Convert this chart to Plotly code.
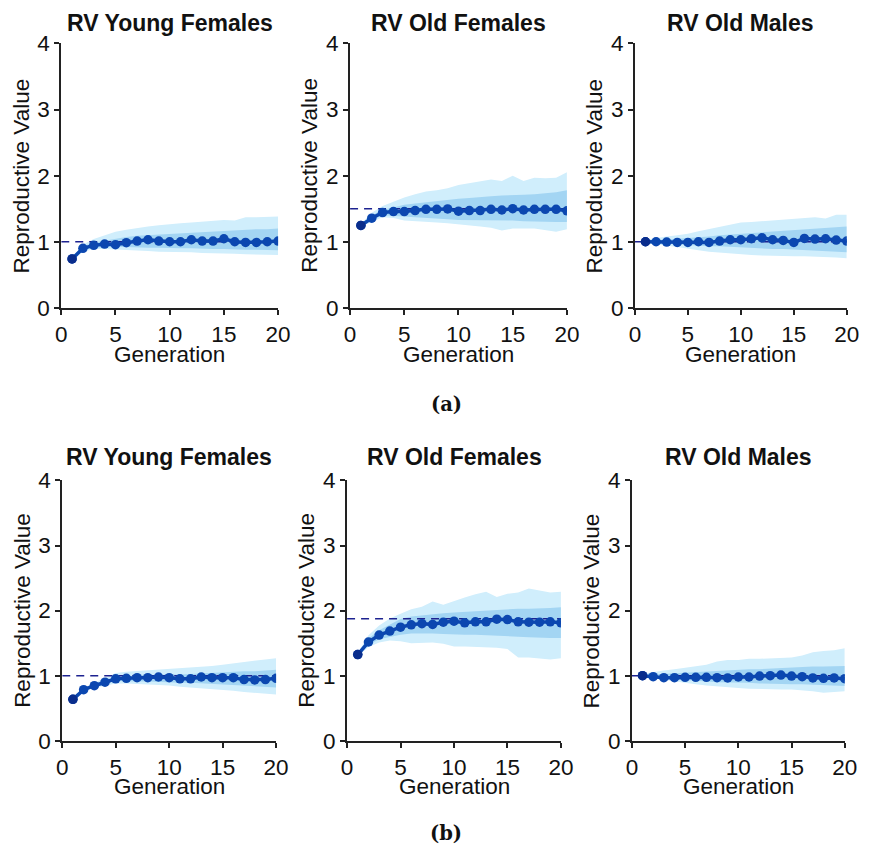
import plotly.graph_objects as go

gens = list(range(1, 21))
titles = ["RV Young Females", "RV Old Females", "RV Old Males"] * 2
captions = ["(a)", "(b)"]
x_ticks = [0, 5, 10, 15, 20]
y_ticks = [0, 1, 2, 3, 4]

# ---- (a) ----
a_yf_mean = [0.74, 0.90, 0.945, 0.965, 0.955, 0.985, 1.01, 1.03, 1.01, 1.0, 1.0, 1.03, 1.01, 1.01, 1.045, 1.0, 0.99, 0.99, 1.0, 1.01]
a_yf_out_hi = [0.76, 0.96, 1.04, 1.10, 1.15, 1.18, 1.21, 1.23, 1.25, 1.27, 1.28, 1.29, 1.30, 1.32, 1.33, 1.32, 1.37, 1.37, 1.37, 1.38]
a_yf_out_lo = [0.72, 0.85, 0.89, 0.89, 0.88, 0.87, 0.87, 0.86, 0.85, 0.85, 0.84, 0.84, 0.83, 0.83, 0.82, 0.82, 0.81, 0.81, 0.80, 0.80]
a_yf_in_hi = [0.75, 0.93, 0.99, 1.02, 1.05, 1.07, 1.09, 1.10, 1.11, 1.12, 1.13, 1.14, 1.15, 1.16, 1.17, 1.18, 1.18, 1.19, 1.19, 1.20]
a_yf_in_lo = [0.73, 0.88, 0.91, 0.92, 0.92, 0.92, 0.92, 0.91, 0.91, 0.91, 0.90, 0.90, 0.90, 0.89, 0.89, 0.89, 0.88, 0.88, 0.88, 0.87]
a_yf_target = 1.0

a_of_mean = [1.246, 1.357, 1.442, 1.457, 1.457, 1.472, 1.49, 1.49, 1.497, 1.462, 1.472, 1.472, 1.49, 1.48, 1.50, 1.48, 1.49, 1.49, 1.49, 1.467]
a_of_out_hi = [1.27, 1.44, 1.54, 1.61, 1.67, 1.72, 1.76, 1.78, 1.81, 1.86, 1.89, 1.91, 1.94, 1.92, 2.0, 1.92, 1.97, 1.96, 1.97, 2.05]
a_of_out_lo = [1.23, 1.30, 1.37, 1.36, 1.32, 1.31, 1.30, 1.29, 1.28, 1.26, 1.25, 1.23, 1.21, 1.17, 1.20, 1.20, 1.20, 1.17, 1.15, 1.19]
a_of_in_hi = [1.26, 1.40, 1.48, 1.52, 1.56, 1.58, 1.60, 1.62, 1.63, 1.65, 1.66, 1.68, 1.69, 1.70, 1.70, 1.71, 1.72, 1.73, 1.75, 1.78]
a_of_in_lo = [1.24, 1.33, 1.40, 1.40, 1.38, 1.37, 1.36, 1.35, 1.34, 1.33, 1.33, 1.32, 1.32, 1.32, 1.32, 1.31, 1.31, 1.30, 1.30, 1.30]
a_of_target = 1.5

a_om_mean = [1.0, 1.0, 0.995, 0.99, 0.99, 1.0, 0.99, 1.01, 1.03, 1.03, 1.045, 1.06, 1.03, 1.02, 0.99, 1.05, 1.04, 1.045, 1.025, 1.01]
a_om_out_hi = [1.03, 1.06, 1.08, 1.10, 1.12, 1.16, 1.19, 1.22, 1.25, 1.29, 1.30, 1.31, 1.32, 1.33, 1.34, 1.35, 1.37, 1.35, 1.41, 1.41]
a_om_out_lo = [0.98, 0.96, 0.94, 0.92, 0.90, 0.87, 0.85, 0.84, 0.82, 0.81, 0.80, 0.79, 0.79, 0.78, 0.78, 0.78, 0.78, 0.77, 0.76, 0.75]
a_om_in_hi = [1.01, 1.02, 1.03, 1.04, 1.05, 1.07, 1.08, 1.10, 1.11, 1.13, 1.14, 1.15, 1.16, 1.16, 1.17, 1.18, 1.19, 1.20, 1.22, 1.23]
a_om_in_lo = [0.99, 0.98, 0.97, 0.96, 0.95, 0.94, 0.93, 0.93, 0.92, 0.92, 0.91, 0.90, 0.89, 0.89, 0.88, 0.87, 0.86, 0.86, 0.85, 0.84]
a_om_target = 1.0

# ---- (b) ----
b_yf_mean = [0.637, 0.785, 0.846, 0.90, 0.953, 0.96, 0.97, 0.97, 0.98, 0.97, 0.953, 0.953, 0.98, 0.97, 0.97, 0.97, 0.94, 0.935, 0.94, 0.96]
b_yf_out_hi = [0.65, 0.81, 0.89, 0.97, 1.04, 1.06, 1.07, 1.08, 1.09, 1.10, 1.11, 1.12, 1.14, 1.15, 1.17, 1.19, 1.21, 1.23, 1.25, 1.27]
b_yf_out_lo = [0.62, 0.76, 0.81, 0.85, 0.88, 0.88, 0.88, 0.87, 0.86, 0.85, 0.83, 0.82, 0.81, 0.80, 0.78, 0.77, 0.75, 0.74, 0.72, 0.71]
b_yf_in_hi = [0.64, 0.79, 0.86, 0.92, 0.98, 0.99, 1.0, 1.01, 1.01, 1.02, 1.02, 1.03, 1.04, 1.04, 1.05, 1.06, 1.07, 1.07, 1.08, 1.09]
b_yf_in_lo = [0.63, 0.78, 0.83, 0.88, 0.92, 0.92, 0.91, 0.91, 0.91, 0.90, 0.89, 0.89, 0.88, 0.88, 0.87, 0.86, 0.85, 0.84, 0.83, 0.82]
b_yf_target = 1.0

b_of_mean = [1.325, 1.518, 1.624, 1.685, 1.746, 1.782, 1.80, 1.787, 1.822, 1.838, 1.812, 1.827, 1.827, 1.868, 1.863, 1.827, 1.822, 1.822, 1.827, 1.812]
b_of_out_hi = [1.35, 1.62, 1.77, 1.88, 1.95, 2.02, 2.06, 2.14, 2.09, 2.15, 2.20, 2.25, 2.29, 2.21, 2.26, 2.28, 2.34, 2.31, 2.28, 2.29]
b_of_out_lo = [1.30, 1.44, 1.51, 1.54, 1.53, 1.50, 1.51, 1.51, 1.49, 1.45, 1.45, 1.44, 1.44, 1.43, 1.41, 1.28, 1.28, 1.27, 1.25, 1.27]
b_of_in_hi = [1.34, 1.57, 1.70, 1.79, 1.87, 1.91, 1.93, 1.95, 1.96, 1.97, 1.98, 1.99, 2.01, 2.02, 2.03, 2.03, 2.03, 2.03, 2.04, 2.05]
b_of_in_lo = [1.31, 1.47, 1.56, 1.60, 1.63, 1.65, 1.65, 1.65, 1.64, 1.63, 1.63, 1.63, 1.62, 1.62, 1.61, 1.60, 1.59, 1.58, 1.58, 1.58]
b_of_target = 1.875

b_om_mean = [1.0, 0.985, 0.97, 0.97, 0.975, 0.975, 0.975, 0.97, 0.965, 0.98, 0.98, 0.995, 1.0, 1.01, 0.995, 0.985, 0.965, 0.96, 0.965, 0.955]
b_om_out_hi = [1.03, 1.06, 1.08, 1.10, 1.12, 1.14, 1.17, 1.22, 1.24, 1.24, 1.26, 1.26, 1.27, 1.28, 1.28, 1.31, 1.36, 1.38, 1.39, 1.42]
b_om_out_lo = [0.98, 0.95, 0.93, 0.91, 0.89, 0.87, 0.85, 0.84, 0.82, 0.81, 0.80, 0.79, 0.79, 0.79, 0.79, 0.78, 0.76, 0.74, 0.75, 0.76]
b_om_in_hi = [1.01, 1.02, 1.02, 1.03, 1.04, 1.05, 1.06, 1.08, 1.08, 1.09, 1.10, 1.10, 1.11, 1.11, 1.12, 1.13, 1.14, 1.14, 1.15, 1.15]
b_om_in_lo = [0.99, 0.97, 0.96, 0.95, 0.93, 0.92, 0.91, 0.90, 0.90, 0.89, 0.89, 0.88, 0.88, 0.87, 0.87, 0.87, 0.86, 0.85, 0.85, 0.84]
b_om_target = 1.0

panels = [
    (a_yf_mean, a_yf_out_lo, a_yf_out_hi, a_yf_in_lo, a_yf_in_hi, a_yf_target),
    (a_of_mean, a_of_out_lo, a_of_out_hi, a_of_in_lo, a_of_in_hi, a_of_target),
    (a_om_mean, a_om_out_lo, a_om_out_hi, a_om_in_lo, a_om_in_hi, a_om_target),
    (b_yf_mean, b_yf_out_lo, b_yf_out_hi, b_yf_in_lo, b_yf_in_hi, b_yf_target),
    (b_of_mean, b_of_out_lo, b_of_out_hi, b_of_in_lo, b_of_in_hi, b_of_target),
    (b_om_mean, b_om_out_lo, b_om_out_hi, b_om_in_lo, b_om_in_hi, b_om_target),
]

# ---- layout geometry ----
PAGE_MARGIN = 8
W, H = 880, 853
SX, OX = 0.979, 6.9     # observed page -> picture mapping (x)
SY, OY = 0.973, 11.7    # observed page -> picture mapping (y)

boxes = [  # x0, x1, ytop, ybottom  (target picture pixels)
    (62, 279, 43, 308), (351, 568, 43, 308), (636, 848, 43, 308),
    (63, 277, 481, 742), (348, 562, 481, 742), (633, 846, 481, 742),
]
title_y = [20, 20, 20, 458, 458, 458]
xlab_y = [355, 355, 355, 788, 788, 788]
caption_pos = [(447, 405), (447, 835)]


def fx(x):  # picture px -> figure px
    return (x - OX) / SX - PAGE_MARGIN


def fy(y):
    return (y - OY) / SY - PAGE_MARGIN


def px(x, lo=0.0):
    return min(max(fx(x), lo), W) / W


def py(y, lo=0.0, hi=None):
    hi = H if hi is None else hi
    return 1 - min(max(fy(y), lo), hi) / H


OUTER = "rgb(208,238,252)"
INNER = "rgb(163,213,243)"
LINE = "#0b47b0"
FIRST = "#0a2d8c"
DASH = "#1d2290"
AXC = "#222222"
FONT = "Liberation Sans, Arial, sans-serif"
FS = 22.5
FS_TITLE = 23

fig = go.Figure()
layout = dict(width=W, height=H, margin=dict(l=0, r=0, t=0, b=0),
              paper_bgcolor="white", plot_bgcolor="white", showlegend=False,
              font=dict(family=FONT, size=FS, color="#111111"))
annotations = []

for i, (mean, olo, ohi, ilo, ihi, tgt) in enumerate(panels):
    n = i + 1
    xa = "x" if n == 1 else f"x{n}"
    ya = "y" if n == 1 else f"y{n}"
    x0, x1, yt, yb = boxes[i]
    layout["xaxis" if n == 1 else f"xaxis{n}"] = dict(
        domain=[px(x0), px(x1)], anchor=ya, range=[0, 20], tickvals=x_ticks,
        showline=True, linecolor=AXC, linewidth=2, ticks="outside", ticklen=5,
        tickwidth=1.5, tickcolor=AXC, showgrid=False, zeroline=False,
        tickfont=dict(size=FS, color="#111111"))
    layout["yaxis" if n == 1 else f"yaxis{n}"] = dict(
        domain=[py(yb), py(yt)], anchor=xa, range=[0, 4], tickvals=y_ticks,
        showline=True, linecolor=AXC, linewidth=2, ticks="outside", ticklen=5,
        tickwidth=1.5, tickcolor=AXC, showgrid=False, zeroline=False,
        tickfont=dict(size=FS, color="#111111"))

    fig.add_trace(go.Scatter(x=gens + gens[::-1], y=ohi + olo[::-1], fill="toself",
                             fillcolor=OUTER, line=dict(width=0), mode="lines",
                             hoverinfo="skip", xaxis=xa, yaxis=ya))
    fig.add_trace(go.Scatter(x=gens + gens[::-1], y=ihi + ilo[::-1], fill="toself",
                             fillcolor=INNER, line=dict(width=0), mode="lines",
                             hoverinfo="skip", xaxis=xa, yaxis=ya))
    fig.add_trace(go.Scatter(x=[0, 20], y=[tgt, tgt], mode="lines",
                             line=dict(color=DASH, width=1.6, dash="8px,6px"),
                             xaxis=xa, yaxis=ya))
    fig.add_trace(go.Scatter(x=gens, y=mean, mode="lines+markers",
                             line=dict(color=LINE, width=3.5),
                             marker=dict(color=LINE, size=9.5),
                             xaxis=xa, yaxis=ya))
    fig.add_trace(go.Scatter(x=gens[:1], y=mean[:1], mode="markers",
                             marker=dict(color=FIRST, size=9.5),
                             xaxis=xa, yaxis=ya))

    cx = (x0 + x1) / 2
    annotations.append(dict(text=f"<b>{titles[i]}</b>", x=px(cx),
                            y=py(title_y[i], lo=3), xref="paper", yref="paper",
                            showarrow=False, xanchor="center", yanchor="middle",
                            font=dict(family=FONT, size=FS_TITLE, color="#111111")))
    annotations.append(dict(text="Generation", x=px(cx), y=py(xlab_y[i]),
                            xref="paper", yref="paper", showarrow=False,
                            xanchor="center", yanchor="middle",
                            font=dict(family=FONT, size=FS, color="#111111")))
    annotations.append(dict(text="Reproductive Value", x=px(x0 - 40, lo=8),
                            y=py((yt + yb) / 2), xref="paper", yref="paper",
                            showarrow=False, textangle=-90, xanchor="center",
                            yanchor="middle",
                            font=dict(family=FONT, size=FS, color="#111111")))

for cap, (cx, cy) in zip(captions, caption_pos):
    annotations.append(dict(text=f"<b>{cap}</b>", x=px(cx), y=py(cy, hi=H - 12),
                            xref="paper", yref="paper", showarrow=False,
                            xanchor="center", yanchor="middle",
                            font=dict(family="DejaVu Serif, serif", size=19.5,
                                      color="#111111")))

layout["annotations"] = annotations
fig.update_layout(**layout)
fig.write_html("out.html")
